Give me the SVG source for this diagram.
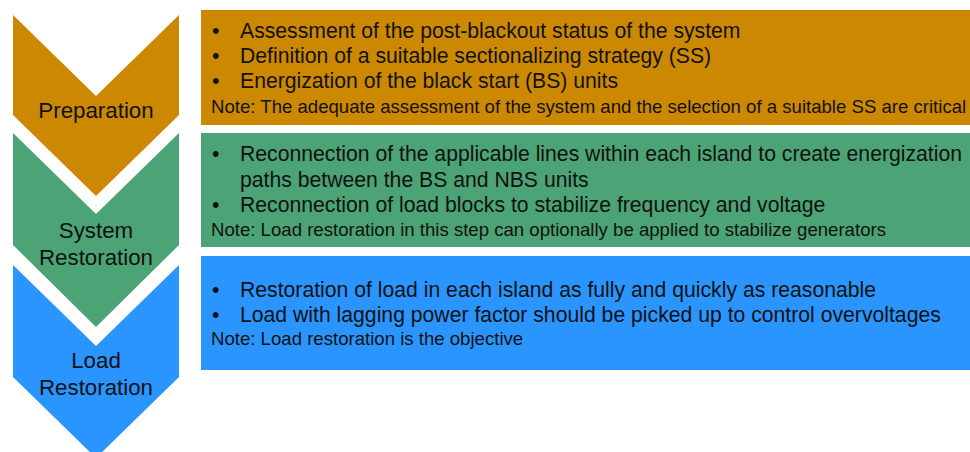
<svg xmlns="http://www.w3.org/2000/svg" width="970" height="452" viewBox="0 0 970 452">
  <style>
    .prep { fill: #CC8800; }
    .sys { fill: #4CA375; }
    .load { fill: #2A95FF; }
    .step { font-family: "Liberation Sans", Arial, sans-serif; font-size: 22.3px; fill: #111; text-anchor: middle; }
    .item { font-family: "Liberation Sans", Arial, sans-serif; font-size: 21.2px; fill: #111; }
    .note { font-family: "Liberation Sans", Arial, sans-serif; font-size: 18.6px; fill: #111; }
  </style>
  <rect width="970" height="452" fill="#FFFFFF"/>

  <!-- Step chevrons -->
  <g id="step-preparation">
    <polygon class="prep" points="13,15 96,96 179,15 179,115 96,196 13,115"/>
    <text class="step" x="96" y="118">Preparation</text>
  </g>
  <g id="step-system-restoration">
    <polygon class="sys" points="13,133 96,214 179,133 179,245 96,327 13,245"/>
    <text class="step" x="96" y="238">System</text>
    <text class="step" x="96" y="265">Restoration</text>
  </g>
  <g id="step-load-restoration">
    <polygon class="load" points="13,265 96,346 179,265 179,377 96,458 13,377"/>
    <text class="step" x="96" y="368">Load</text>
    <text class="step" x="96" y="395">Restoration</text>
  </g>

  <!-- Description panels -->
  <g id="panel-preparation">
    <rect class="prep" x="201" y="10" width="769" height="115"/>
    <text class="item" x="212" y="38">•</text>
    <text class="item" x="240" y="38">Assessment of the post-blackout status of the system</text>
    <text class="item" x="212" y="63">•</text>
    <text class="item" x="240" y="63">Definition of a suitable sectionalizing strategy (SS)</text>
    <text class="item" x="212" y="88">•</text>
    <text class="item" x="240" y="88">Energization of the black start (BS) units</text>
    <text class="note" x="211" y="113">Note: The adequate assessment of the system and the selection of a suitable SS are critical</text>
  </g>
  <g id="panel-system-restoration">
    <rect class="sys" x="201" y="133" width="769" height="114"/>
    <text class="item" x="212" y="161">•</text>
    <text class="item" x="240" y="161">Reconnection of the applicable lines within each island to create energization</text>
    <text class="item" x="240" y="187">paths between the BS and NBS units</text>
    <text class="item" x="212" y="212">•</text>
    <text class="item" x="240" y="212">Reconnection of load blocks to stabilize frequency and voltage</text>
    <text class="note" x="211" y="236">Note: Load restoration in this step can optionally be applied to stabilize generators</text>
  </g>
  <g id="panel-load-restoration">
    <rect class="load" x="201" y="256" width="769" height="114"/>
    <text class="item" x="212" y="297">•</text>
    <text class="item" x="240" y="297">Restoration of load in each island as fully and quickly as reasonable</text>
    <text class="item" x="212" y="322">•</text>
    <text class="item" x="240" y="322">Load with lagging power factor should be picked up to control overvoltages</text>
    <text class="note" x="211" y="345">Note: Load restoration is the objective</text>
  </g>

  <g id="connectors"/>
</svg>
